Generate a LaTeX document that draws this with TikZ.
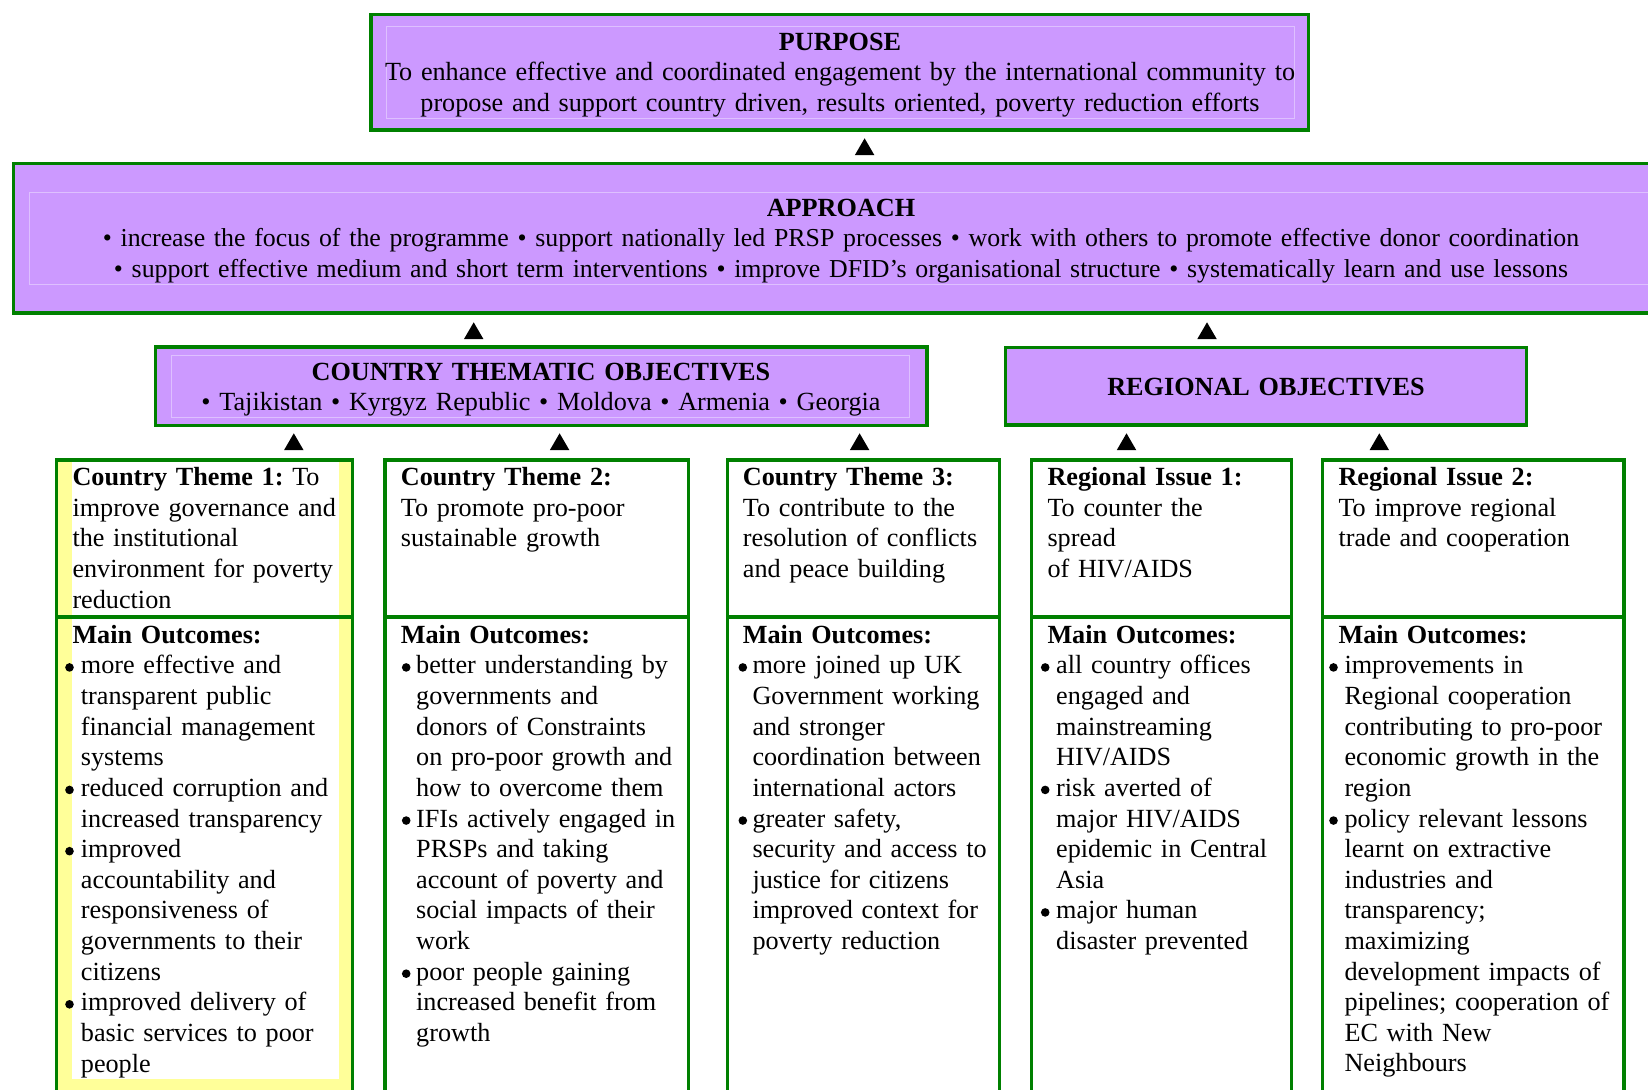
\documentclass[tikz,border=0pt]{standalone}
\usepackage{fontspec}
\setmainfont{Liberation Serif}[WordSpace=0.9]
\definecolor{bgreen}{RGB}{0,128,0}
\definecolor{lilac}{RGB}{204,153,255}
\definecolor{lilacline}{RGB}{222,192,255}
\definecolor{paleyellow}{RGB}{255,255,153}
\newcommand\bodyfs{\fontsize{26.2}{30.6}\selectfont\frenchspacing}
\newcommand\apprfs{\fontsize{25.85}{30.6}\selectfont}
\newcommand\uptri[2]{\fill[black] (#1,#2) -- ({#1+9.75},{#2+16.8}) -- ({#1-9.75},{#2+16.8}) -- cycle;}
\newcommand\outitem[5]{%
  \fill[black] ({#2+4.5},{643.3+#4*30.625-6.5}) circle (4.3pt);
  \node[ltxt] (#1) at (#3,{643.3+#4*30.625}) {#5};}
\begin{document}
\begin{tikzpicture}[x=1pt,y=-1pt,
  frame/.style={draw=bgreen,line width=3.3pt},
  pbox/.style={frame,fill=lilac},
  iframe/.style={draw=lilacline,line width=0.8pt},
  ltxt/.style={inner sep=0pt,font=\bodyfs,text width=600pt,align=left,anchor=base west},
  ctxt/.style={inner sep=0pt,font=\bodyfs,text width=1600pt,align=center,anchor=base}]
\useasboundingbox (0,0) rectangle (1648,1089);
\clip (0,0) rectangle (1648,1089);

% ---------- PURPOSE ----------
\draw[pbox] (371,14.3) rectangle (1308.5,130);
\draw[iframe] (386,26) rectangle (1294,118);
\node[ctxt] (purpose) at (840,50.3) {\textbf{PURPOSE}\\To enhance effective and coordinated engagement by the international community to\\propose and support country driven, results oriented, poverty reduction efforts};
\uptri{864.6}{138.3}

% ---------- APPROACH ----------
\draw[pbox] (13.5,163.7) rectangle (1668.5,313);
\draw[iframe] (29,192) rectangle (1653,284);
\node[ctxt] (approach) at (841,216) {\textbf{APPROACH}\\\apprfs• increase the focus of the programme • support nationally led PRSP processes • work with others to promote effective donor coordination\\\apprfs• support effective medium and short term interventions • improve DFID’s organisational structure • systematically learn and use lessons};
\uptri{473.7}{322.3}
\uptri{1207}{322.3}

% ---------- OBJECTIVES ----------
\draw[pbox] (155.3,347) rectangle (927,425.7);
\draw[iframe] (171,355) rectangle (909,417);
\node[ctxt] (country) at (541,380) {\textbf{COUNTRY THEMATIC OBJECTIVES}\\• Tajikistan • Kyrgyz Republic • Moldova • Armenia • Georgia};
\draw[pbox] (1005.2,347.2) rectangle (1526.2,425);
\node[ctxt] (regional) at (1266,395.5) {\textbf{REGIONAL OBJECTIVES}};

\uptri{293.8}{433.3}
\uptri{559.6}{433.3}
\uptri{859.6}{433.3}
\uptri{1126.5}{433.3}
\uptri{1379.3}{433.3}

% ---------- LOWER BOXES ----------
\fill[paleyellow] (56.7,460) rectangle (352.3,1110);
\fill[white] (71.7,461.7) rectangle (339,1079);
\foreach \xa/\xb in {56.7/352.3, 385/688.3, 727.7/999.3, 1031.7/1291.5, 1322.7/1624}{
  \draw[frame] (\xa,460) rectangle (\xb,1110);
  \draw[frame] (\xa,617) -- (\xb,617);
}

% Box 1
\node[ltxt] (t1) at (72.3,485.7) {\textbf{Country Theme 1:} To\\improve governance and\\the institutional\\environment for poverty\\reduction};
\node[ltxt] (m1) at (72.3,643.3) {\textbf{Main Outcomes:}};
\outitem{o1a}{65}{80.7}{1}{more effective and\\transparent public\\financial management\\systems}
\outitem{o1b}{65}{80.7}{5}{reduced corruption and\\increased transparency}
\outitem{o1c}{65}{80.7}{7}{improved\\accountability and\\responsiveness of\\governments to their\\citizens}
\outitem{o1d}{65}{80.7}{12}{improved delivery of\\basic services to poor\\people}

% Box 2
\node[ltxt] (t2) at (400.7,485.7) {\textbf{Country Theme 2:}\\To promote pro-poor\\sustainable growth};
\node[ltxt] (m2) at (400.7,643.3) {\textbf{Main Outcomes:}};
\outitem{o2a}{401.7}{416}{1}{better understanding by\\governments and\\donors of Constraints\\on pro-poor growth and\\how to overcome them}
\outitem{o2b}{401.7}{416}{6}{IFIs actively engaged in\\PRSPs and taking\\account of poverty and\\social impacts of their\\work}
\outitem{o2c}{401.7}{416}{11}{poor people gaining\\increased benefit from\\growth}

% Box 3
\node[ltxt] (t3) at (742.7,485.7) {\textbf{Country Theme 3:}\\To contribute to the\\resolution of conflicts\\and peace building};
\node[ltxt] (m3) at (742.7,643.3) {\textbf{Main Outcomes:}};
\outitem{o3a}{738.3}{752.3}{1}{more joined up UK\\Government working\\and stronger\\coordination between\\international actors}
\outitem{o3b}{738.3}{752.3}{6}{greater safety,\\security and access to\\justice for citizens\\improved context for\\poverty reduction}

% Box 4
\node[ltxt] (t4) at (1047.3,485.7) {\textbf{Regional Issue 1:}\\To counter the\\spread\\of HIV/AIDS};
\node[ltxt] (m4) at (1047.3,643.3) {\textbf{Main Outcomes:}};
\outitem{o4a}{1040.7}{1056}{1}{all country offices\\engaged and\\mainstreaming\\HIV/AIDS}
\outitem{o4b}{1040.7}{1056}{5}{risk averted of\\major HIV/AIDS\\epidemic in Central\\Asia}
\outitem{o4c}{1040.7}{1056}{9}{major human\\disaster prevented}

% Box 5
\node[ltxt] (t5) at (1338.3,485.7) {\textbf{Regional Issue 2:}\\To improve regional\\trade and cooperation};
\node[ltxt] (m5) at (1338.3,643.3) {\textbf{Main Outcomes:}};
\outitem{o5a}{1329}{1344.3}{1}{improvements in\\Regional cooperation\\contributing to pro-poor\\economic growth in the\\region}
\outitem{o5b}{1329}{1344.3}{6}{policy relevant lessons\\learnt on extractive\\industries and\\transparency;\\maximizing\\development impacts of\\pipelines; cooperation of\\EC with New\\Neighbours}
\end{tikzpicture}
\end{document}
